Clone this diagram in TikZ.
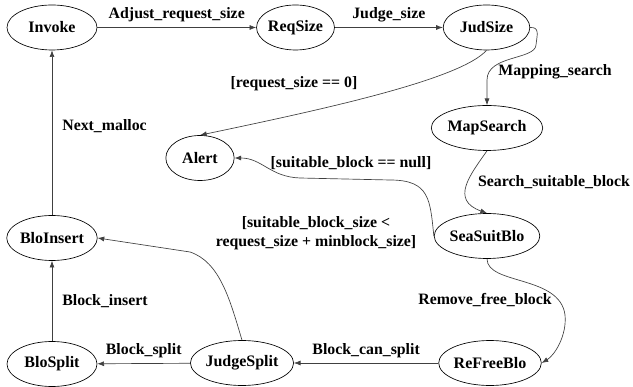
\documentclass[tikz,border=0pt]{standalone}
\usepackage{fontspec}
\setmainfont{Liberation Serif}
\usetikzlibrary{positioning, shapes.geometric, arrows.meta}

\begin{document}
\begin{tikzpicture}[
          x=0.6pt, y=-0.6pt,
          state/.style={ellipse, draw, minimum height=27pt, inner sep=0pt, font=\fontsize{9.6}{11.5}\selectfont\bfseries},
          arrow/.style={-{Latex[length=4pt, width=3pt]}, draw=black!75},
          lbl/.style={font=\fontsize{9.5}{11.5}\selectfont\bfseries, inner sep=1pt}
        ]
          \useasboundingbox (0,0) rectangle (633,387);

          \node[state, minimum width=54pt] (invoke) at (52,27.5) {Invoke};
          \node[state, minimum width=44pt] (reqsize) at (295.5,27.5) {ReqSize};
          \node[state, minimum width=52pt] (judsize) at (486.5,27.5) {JudSize};
          \node[state, minimum width=60pt] (mapsearch) at (487,128) {MapSearch};
          \node[state, minimum width=41pt] (alert) at (200,158) {Alert};
          \node[state, minimum width=60pt] (seasuitblo) at (487,236) {SeaSuitBlo};
          \node[state, minimum width=54pt] (bloinsert) at (52,238) {BloInsert};
          \node[state, minimum width=54pt] (blosplit) at (52,364) {BloSplit};
          \node[state, minimum width=58pt] (judgesplit) at (242,363) {JudgeSplit};
          \node[state, minimum width=58pt] (refreeblo) at (490,363) {ReFreeBlo};

          \draw[arrow] (invoke) -- node[lbl, above=2pt] {Adjust\_request\_size} (reqsize);
          \draw[arrow] (reqsize) -- node[lbl, above=2pt] {Judge\_size} (judsize);
          \draw[arrow] (judsize.east) .. controls (540,27) and (537,35) .. (536,45)
            .. controls (535,60) and (487,55) .. (487,80) -- (mapsearch.north)
            node[lbl] at (555,72) {Mapping\_search};
          \draw[arrow] (judsize.south) .. controls (460,80) and (320,110) .. (alert.north)
            node[lbl] at (294,84) {[request\_size == 0]};
          \draw[arrow] (mapsearch.south) .. controls (470,175) and (450,200) .. (seasuitblo.north)
            node[lbl] at (554,182) {Search\_suitable\_block};
          \draw[arrow] (seasuitblo.west) .. controls (430,200) and (430,180) .. (390,180) -- (300,178)
            .. controls (270,177) and (262,158) .. (alert.east)
            node[lbl] at (351,163) {[suitable\_block == null]};
          \draw[arrow] (seasuitblo.south) .. controls (487,285) and (560,275) .. (565,315)
            .. controls (567,335) and (555,355) .. (refreeblo.east)
            node[lbl] at (485,300) {Remove\_free\_block};
          \draw[arrow] (refreeblo) -- node[lbl, above=2pt] {Block\_can\_split} (judgesplit);
          \draw[arrow] (judgesplit) -- node[lbl, above=2pt] {Block\_split} (blosplit);
          \draw[arrow] (judgesplit.north) .. controls (230,300) and (220,262) .. (190,252) -- (bloinsert.east)
            node[lbl, align=center] at (316,233) {[suitable\_block\_size <\\request\_size + minblock\_size]};
          \draw[arrow] (blosplit) -- node[lbl, right=5pt] {Block\_insert} (bloinsert);
          \draw[arrow] (bloinsert) -- node[lbl, pos=0.54, right=5pt] {Next\_malloc} (invoke);
\end{tikzpicture}
\end{document}
